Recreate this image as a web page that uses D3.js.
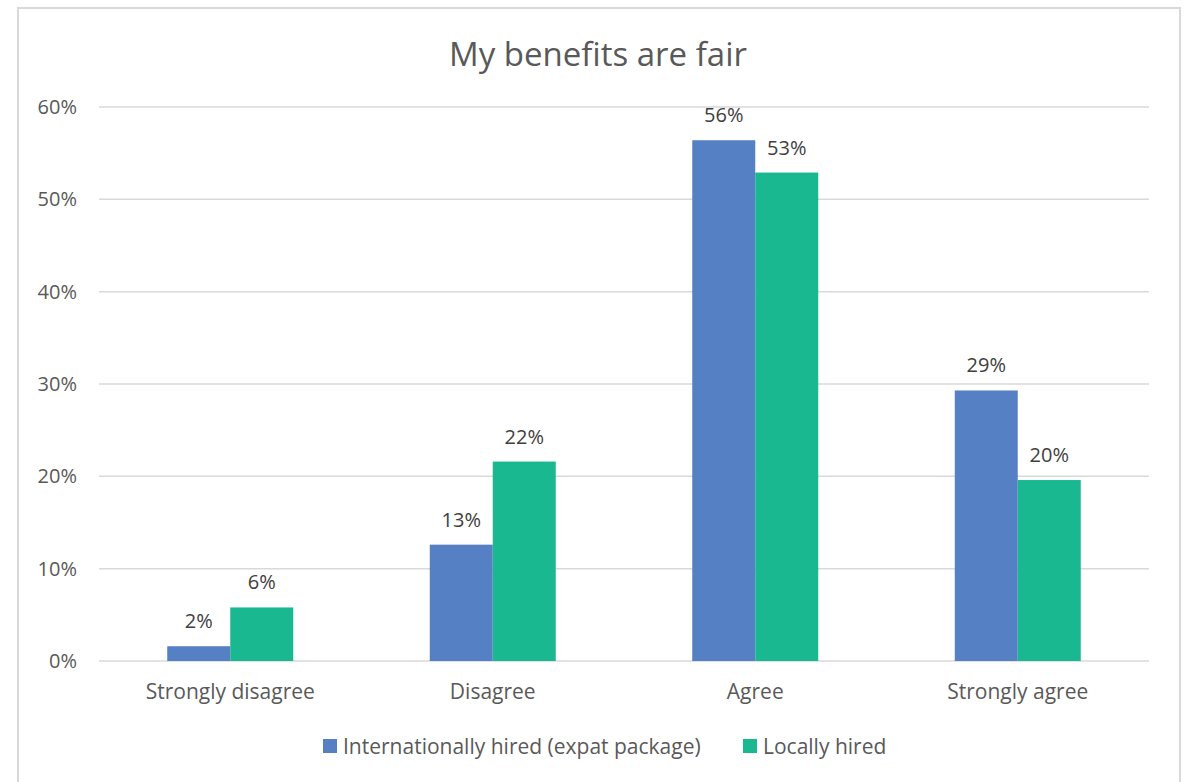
<!DOCTYPE html>
<html>
<head>
<meta charset="utf-8">
<script src="https://cdn.jsdelivr.net/npm/d3@7"></script>
<style>
  body { margin: 0; background: #fff; }
  svg text { font-family: "Open Sans", sans-serif; }
</style>
</head>
<body>
<div id="chart"></div>
<script>
// Survey answers: share of respondents per answer, by hiring type
const categories = ["Strongly disagree", "Disagree", "Agree", "Strongly agree"];
const seriesNames = ["Internationally hired (expat package)", "Locally hired"];
const internationalValues = [0.016, 0.126, 0.564, 0.293];
const localValues = [0.058, 0.216, 0.529, 0.196];
const yTicks = [0, 0.1, 0.2, 0.3, 0.4, 0.5, 0.6];
const colors = ["#5580c3", "#1ab891"];

const width = 1193, height = 782;
const margin = {top: 107, right: 44, bottom: 121, left: 99};
const font = "'Open Sans', sans-serif";

const svg = d3.select("#chart").append("svg")
  .attr("width", width)
  .attr("height", height);

// chart frame
svg.append("rect")
  .attr("x", 18).attr("y", 8)
  .attr("width", 1162).attr("height", 800)
  .attr("fill", "#fff")
  .attr("stroke", "#d9d9d9")
  .attr("stroke-width", 2);

const rows = categories.map((c, i) => ({
  category: c,
  values: [internationalValues[i], localValues[i]]
}));

const x0 = d3.scaleBand()
  .domain(categories)
  .range([margin.left, width - margin.right])
  .paddingInner(0.52)
  .paddingOuter(0.26);

const x1 = d3.scaleBand()
  .domain(d3.range(seriesNames.length))
  .range([0, x0.bandwidth()]);

const y = d3.scaleLinear()
  .domain([0, 0.6])
  .range([height - margin.bottom, margin.top]);

// gridlines
svg.append("g")
  .selectAll("line")
  .data(yTicks)
  .join("line")
  .attr("x1", margin.left)
  .attr("x2", width - margin.right)
  .attr("y1", d => y(d))
  .attr("y2", d => y(d))
  .attr("stroke", "#d9d9d9")
  .attr("stroke-width", 1.5);

// y axis labels
const yAxis = svg.append("g")
  .attr("transform", `translate(${margin.left - 22},0)`)
  .call(d3.axisLeft(y).tickValues(yTicks).tickFormat(d3.format(".0%")).tickSize(0).tickPadding(0));
yAxis.select(".domain").remove();
yAxis.selectAll("text")
  .attr("font-size", 20)
  .attr("fill", "#595959")
  .attr("font-family", font);

// x axis labels
const xAxis = svg.append("g")
  .attr("transform", `translate(0,${height - margin.bottom + 23})`)
  .call(d3.axisBottom(x0).tickSize(0).tickPadding(0));
xAxis.select(".domain").remove();
xAxis.selectAll("text")
  .attr("font-size", 21)
  .attr("fill", "#595959")
  .attr("font-family", font);

// bars
const groups = svg.append("g")
  .selectAll("g")
  .data(rows)
  .join("g")
  .attr("transform", d => `translate(${x0(d.category)},0)`);

groups.selectAll("rect")
  .data(d => d.values)
  .join("rect")
  .attr("x", (d, i) => x1(i))
  .attr("y", d => y(d))
  .attr("width", x1.bandwidth())
  .attr("height", d => y(0) - y(d))
  .attr("fill", (d, i) => colors[i]);

// value labels
groups.selectAll("text")
  .data(d => d.values)
  .join("text")
  .attr("x", (d, i) => x1(i) + x1.bandwidth() / 2)
  .attr("y", d => y(d) - 18)
  .attr("text-anchor", "middle")
  .attr("font-size", 20)
  .attr("fill", "#404040")
  .text(d => Math.round(d * 100) + "%");

// title
svg.append("text")
  .attr("x", 598)
  .attr("y", 66)
  .attr("text-anchor", "middle")
  .attr("font-size", 33)
  .attr("fill", "#595959")
  .text("My benefits are fair");

// legend
const legendX = [323, 743];
const legend = svg.append("g")
  .selectAll("g")
  .data(seriesNames)
  .join("g")
  .attr("transform", (d, i) => `translate(${legendX[i]},739)`);
legend.append("rect")
  .attr("width", 14).attr("height", 14)
  .attr("fill", (d, i) => colors[i]);
legend.append("text")
  .attr("x", 20)
  .attr("y", 15)
  .attr("font-size", 21)
  .attr("fill", "#595959")
  .text(d => d);
</script>
</body>
</html>
